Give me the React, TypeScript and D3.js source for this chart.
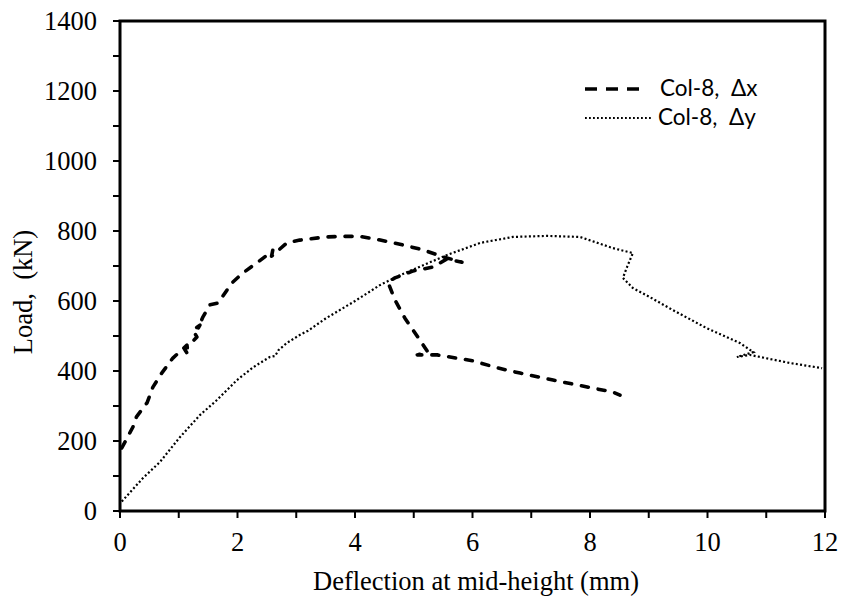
import React from "react";
import * as d3 from "d3";

const dxX = [0.03,0.22,0.28,0.46,0.56,0.71,0.9,1.05,1.14,1.16,1.1,1.2,1.31,1.24,1.36,1.33,1.41,1.53,1.67,1.82,1.92,2.09,2.33,2.55,2.6,2.58,2.84,3.06,3.5,3.9,4.1,4.43,4.82,5.16,5.5,5.82,5.56,5.33,4.99,4.68,4.56,4.68,4.85,5.07,5.24,5.06,5.4,6.01,6.42,6.81,7.37,8.05,8.39,8.51];
const dxY = [180,240,269,309,354,394,437,460,474,446,462,478,497,517,531,522,554,589,594,631,654,680,709,737,745,728,766,774,783,785,784,774,760,746,726,711,720,697,686,666,654,603,551,497,454,446,446,429,409,394,374,351,340,331];

const dyX = [0.03,0.39,0.68,1.02,1.36,1.65,1.99,2.27,2.55,2.64,2.7,2.84,3.06,3.2,3.5,4.0,4.43,4.77,5.2,5.56,6.13,6.69,7.26,7.83,8.39,8.73,8.63,8.56,8.73,9.02,9.41,9.98,10.55,10.78,10.5,10.72,11.4,11.95];
const dyY = [27,94,140,211,274,317,374,411,440,443,460,480,503,515,550,600,646,674,705,731,766,783,786,783,751,737,697,666,637,611,574,523,480,454,440,446,423,408];

const xTicks = [0, 2, 4, 6, 8, 10, 12];
const yTicks = [0, 200, 400, 600, 800, 1000, 1200, 1400];
const legendLabels = ["Col-8,  \u0394x", "Col-8,  \u0394y"];

export default function App() {
  const x = d3.scaleLinear().domain([0, 12]).range([120, 825]);
  const y = d3.scaleLinear().domain([0, 1400]).range([511, 21]);
  const line = d3.line<[number, number]>().x(d => x(d[0])).y(d => y(d[1]));
  const dxPts: [number, number][] = dxX.map((v, i) => [v, dxY[i]]);
  const dyPts: [number, number][] = dyX.map((v, i) => [v, dyY[i]]);
  const yMinor = d3.range(0, 1401, 100);
  const xMinor = d3.range(0, 13, 1);
  const serif = "'Liberation Serif', 'Times New Roman', serif";
  const sans = "Lato, 'Open Sans', sans-serif";
  return (
    <svg width={843} height={604} style={{ position: "absolute", left: 0, top: 0, background: "#fff" }}>
      <rect x={0} y={0} width={843} height={604} fill="#fff" />
      <path d={line(dyPts) || ""} fill="none" stroke="#000" strokeWidth={2.2} strokeDasharray="2 2.3" />
      <path d={line(dxPts) || ""} fill="none" stroke="#000" strokeWidth={3.6} strokeDasharray="7 10" strokeLinecap="round" strokeLinejoin="round" />
      <rect x={x(0)} y={y(1400)} width={x(12) - x(0)} height={y(0) - y(1400)} fill="none" stroke="#000" strokeWidth={3} />
      {yMinor.map(v => (
        <line key={"yt" + v} x1={x(0) - 7} x2={x(0)} y1={y(v)} y2={y(v)} stroke="#000" strokeWidth={2} />
      ))}
      {xMinor.map(v => (
        <line key={"xt" + v} x1={x(v)} x2={x(v)} y1={y(0)} y2={y(0) + 7} stroke="#000" strokeWidth={2} />
      ))}
      {yTicks.map(v => (
        <text key={"yl" + v} x={97} y={y(v)} dy="0.34em" textAnchor="end" fontFamily={serif} fontSize={26.5}>{v}</text>
      ))}
      {xTicks.map(v => (
        <text key={"xl" + v} x={x(v)} y={551} textAnchor="middle" fontFamily={serif} fontSize={26.5}>{v}</text>
      ))}
      <text x={476} y={590} textAnchor="middle" fontFamily={serif} fontSize={26.5}>Deflection at mid-height (mm)</text>
      <text transform="translate(32,292) rotate(-90)" textAnchor="middle" fontFamily={serif} fontSize={26.5} style={{ whiteSpace: "pre" }}>Load,  (kN)</text>
      <line x1={585} x2={642} y1={89} y2={89} stroke="#000" strokeWidth={3.6} strokeDasharray="12 9" />
      <text x={660} y={96} fontFamily={sans} fontSize={22.5} style={{ whiteSpace: "pre" }}>{legendLabels[0]}</text>
      <line x1={585} x2={653} y1={118} y2={118} stroke="#000" strokeWidth={2} strokeDasharray="1.8 2.2" />
      <text x={658} y={125} fontFamily={sans} fontSize={22.5} style={{ whiteSpace: "pre" }}>{legendLabels[1]}</text>
    </svg>
  );
}
